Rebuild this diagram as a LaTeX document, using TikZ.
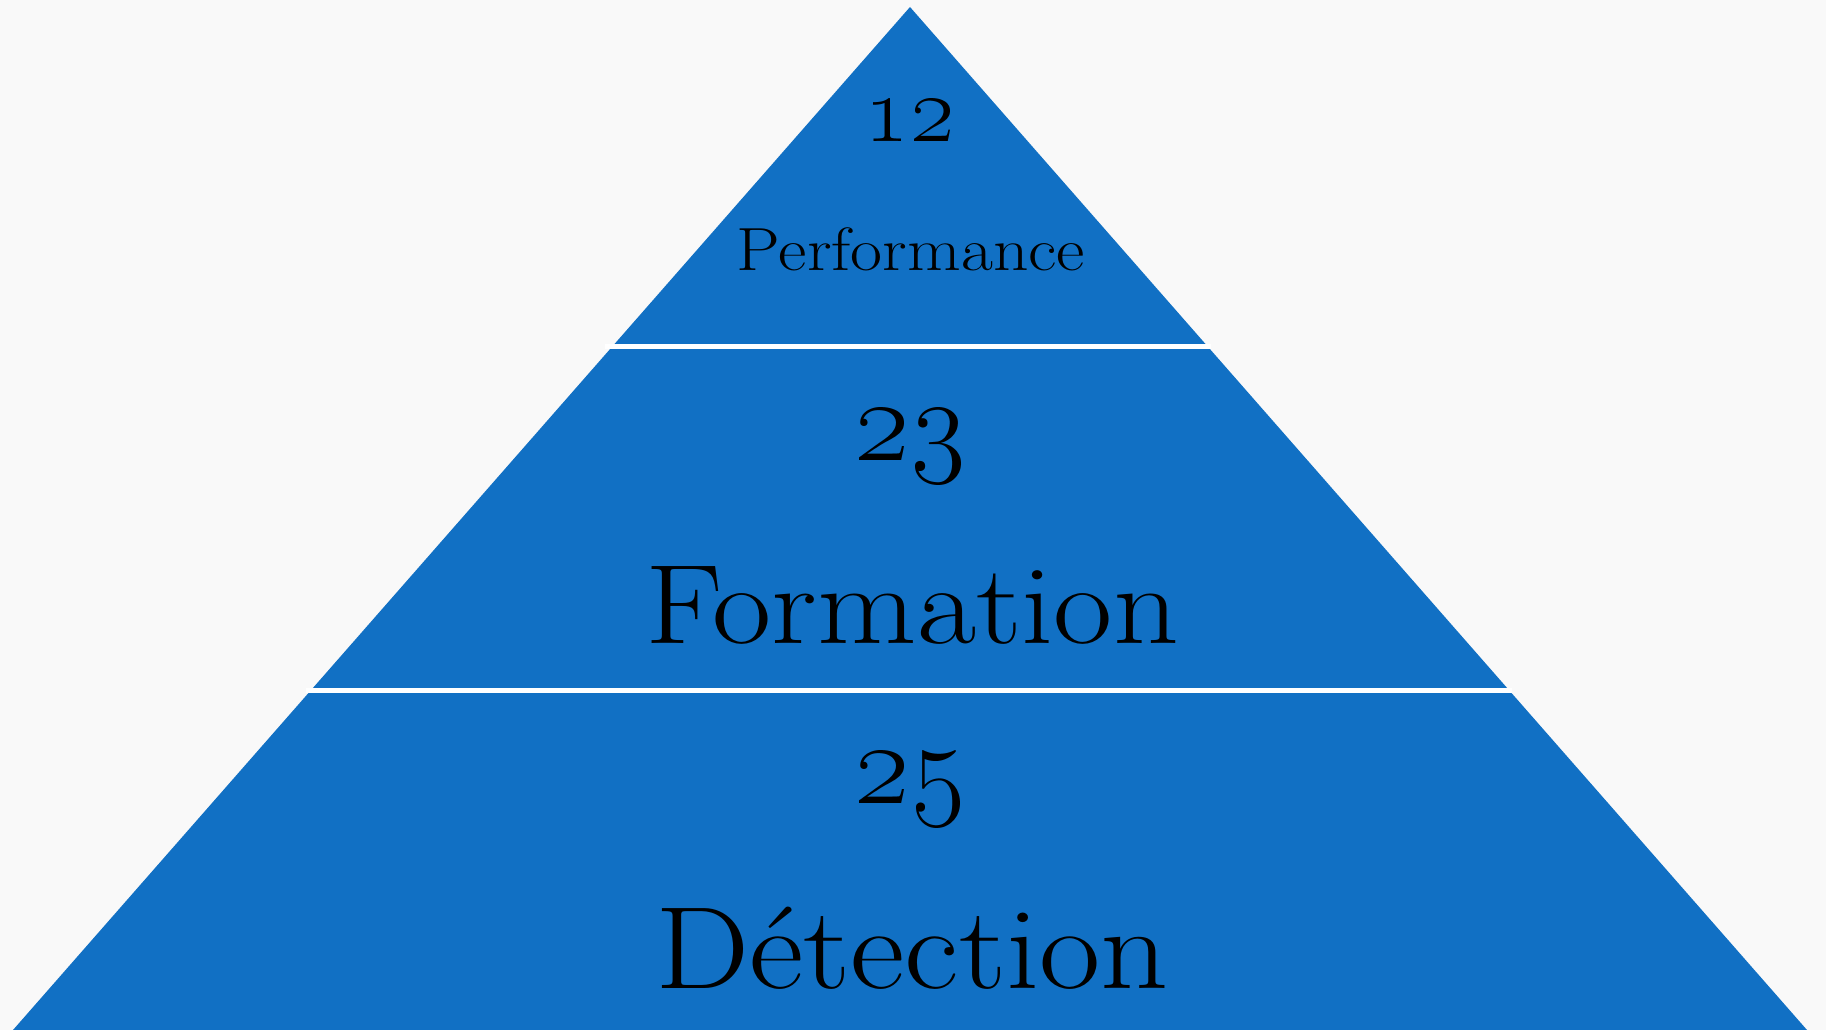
\documentclass[tikz,border=0pt]{standalone}
\usepackage{fix-cm}
\definecolor{pyrblue}{RGB}{17,112,196}
\definecolor{paper}{RGB}{249,249,249}
\newcommand{\wide}[1]{\scalebox{1.14}[1]{#1}}
\tikzset{
    level/.style={anchor=base, text=black, inner sep=0pt},
    sep/.style={white, line width=5pt}
}
\begin{document}
\begin{tikzpicture}[x=1pt, y=-1pt]

        % Background
        \fill[paper] (0,0) rectangle (1826,1030);
        \useasboundingbox (0,0) rectangle (1826,1030);

        % Pyramid
        \fill[pyrblue] (910,7) -- (1807,1030) -- (13,1030) -- cycle;

        % Separators
        \foreach \y/\xl/\xr in {346/605/1211, 690/306/1512}{
            \draw[sep] (\xl,\y) -- (\xr,\y);
        }

        % Top level
        \node[level, font=\fontsize{96}{96}\selectfont] (numtop) at (910,142) {\oldstylenums{12}};
        \node[level, font=\fontsize{61}{61}\selectfont] (perf) at (911,270) {\wide{Performance}};

        % Middle level
        \node[level, font=\fontsize{118}{118}\selectfont] (nummid) at (910,460) {\oldstylenums{23}};
        \node[level, font=\fontsize{113}{113}\selectfont] (form) at (912,643) {\wide{Formation}};

        % Bottom level
        \node[level, font=\fontsize{118}{118}\selectfont] (numbot) at (910,803) {\oldstylenums{25}};
        \node[level, font=\fontsize{117}{117}\selectfont] (detect) at (912,988) {\wide{Détection}};

    \end{tikzpicture}
\end{document}
